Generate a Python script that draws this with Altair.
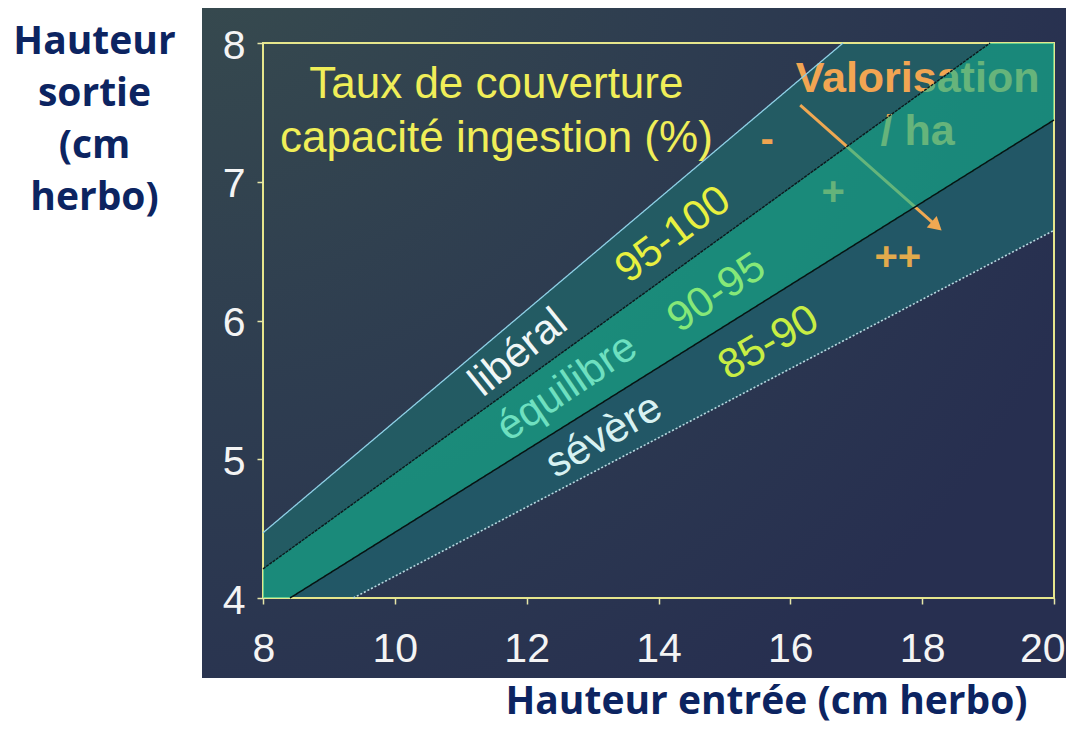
import altair as alt
import pandas as pd

# ---------------- data ----------------
x_ticks = [8, 10, 12, 14, 16, 18, 20]
y_ticks = [4, 5, 6, 7, 8]

band_x = [8, 8.41, 9.37, 16.8, 19.03, 20]
liberal_top = [4.47, 4.63, 5.02, 8.0, 8.0, 8.0]
liberal_bottom = [4.21, 4.35, 4.68, 7.23, 8.0, 8.0]
equilibre_top = [4.21, 4.35, 4.68, 7.23, 8.0, 8.0]
equilibre_bottom = [4.0, 4.0, 4.29, 6.49, 7.15, 7.445]
severe_top = [4.0, 4.0, 4.29, 6.49, 7.15, 7.445]
severe_bottom = [4.0, 4.0, 4.0, 5.85, 6.41, 6.65]

line_names = ["haut", "liberal_equilibre", "equilibre_severe", "bas"]
line_x_start = [8, 8, 8.41, 9.37]
line_y_start = [4.47, 4.21, 4.0, 4.0]
line_x_end = [16.8, 19.03, 20, 20]
line_y_end = [8.0, 8.0, 7.445, 6.65]

arrow_x = [16.15, 18.22]
arrow_y = [7.553, 6.68]

# annotations (text, x, y)
title_texts = ["Taux de couverture", "capacité ingestion (%)"]
title_x = [11.54, 11.54]
title_y = [7.604, 7.214]

band_labels = ["libéral", "95-100", "équilibre", "90-95", "sévère", "85-90"]
band_label_x = [11.87, 14.22, 12.61, 14.88, 13.17, 15.67]
band_label_y = [5.77, 6.62, 5.52, 6.20, 5.17, 5.84]

valo_texts = ["Valorisation", "/ ha"]
valo_x = [17.93, 17.93]
valo_y = [7.647, 7.265]

mark_texts = ["-", "+", "++"]
mark_x = [15.65, 16.65, 17.63]
mark_y = [7.30, 6.92, 6.45]

# ---------------- styles ----------------
W, H = 791, 555
FONT = "Liberation Sans"
TICK_COL = "#e6e6a8"

band_label_style = {
    "libéral": dict(color="#f0f6f6", angle=321),
    "95-100": dict(color="#e8f040", angle=323),
    "équilibre": dict(color="#6ee0c0", angle=326),
    "90-95": dict(color="#86e878", angle=326),
    "sévère": dict(color="#d8f2f2", angle=330),
    "85-90": dict(color="#c8ee44", angle=330),
}
mark_style = {"-": "#f0a450", "+": "#f0a450", "++": "#e2aa4c"}

xscale = alt.Scale(domain=[8, 20], nice=False, zero=False)
yscale = alt.Scale(domain=[4, 8], nice=False, zero=False)

xaxis = alt.Axis(
    values=x_ticks, grid=False, domain=False, tickColor=TICK_COL, tickSize=6, tickWidth=1.5,
    labelFont=FONT, labelFontSize=41, labelColor="#f4f4f4", labelPadding=25,
    labelFlush=True, labelFlushOffset=11,
    title="Hauteur entrée (cm herbo)", titleFont="Open Sans", titleFontSize=39,
    titleFontWeight="bold", titleColor="#0c2461", titleAngle=0, titleAlign="center",
    titleBaseline="alphabetic", titleX=503, titleY=115, zindex=1,
)
yaxis = alt.Axis(
    values=y_ticks, grid=False, domain=False, tickColor=TICK_COL, tickSize=6, tickWidth=1.5,
    labelFont=FONT, labelFontSize=41, labelColor="#f4f4f4", labelPadding=12, labelOffset=3,
    labelFlush=False,
    title=["Hauteur", "sortie", "(cm", "herbo)"], titleFont="Open Sans", titleFontSize=39,
    titleFontWeight="bold", titleColor="#0c2461", titleAngle=0, titleAlign="center",
    titleBaseline="top", titleX=-169, titleY=-21, titleLineHeight=52, zindex=1,
)


def X(f="x"):
    return alt.X(f"{f}:Q", scale=xscale, axis=xaxis)


def Y(f="y"):
    return alt.Y(f"{f}:Q", scale=yscale, axis=yaxis)


# background panel (decoration)
bg_grad = alt.RadialGradient(
    gradient="radial", x1=0, y1=0, r1=0, x2=0, y2=0, r2=1.1,
    stops=[
        alt.GradientStop(color="#384c4e", offset=0),
        alt.GradientStop(color="#2e3d50", offset=0.5),
        alt.GradientStop(color="#272f50", offset=1),
    ],
)
background = alt.Chart(pd.DataFrame({"a": [0]})).mark_rect(fill=bg_grad).encode(
    x=alt.value(-61), x2=alt.value(811), y=alt.value(-36), y2=alt.value(635)
)

bands = pd.DataFrame({
    "x": band_x,
    "lib_top": liberal_top, "lib_bot": liberal_bottom,
    "eq_top": equilibre_top, "eq_bot": equilibre_bottom,
    "sev_top": severe_top, "sev_bot": severe_bottom,
})

liberal = alt.Chart(bands).mark_area(color="#235b63").encode(
    x=X(), y=Y("lib_top"), y2="lib_bot:Q")
severe = alt.Chart(bands).mark_area(color="#225766").encode(
    x=X(), y=Y("sev_top"), y2="sev_bot:Q")
equilibre = alt.Chart(bands).mark_area(color="#10bd95", opacity=0.62).encode(
    x=X(), y=Y("eq_top"), y2="eq_bot:Q")

frame = alt.Chart(pd.DataFrame({"x": [8], "x2": [20], "y": [4], "y2": [8]})).mark_rect(
    fillOpacity=0, stroke="#e6e68c", strokeWidth=2).encode(
    x=X(), x2="x2:Q", y=Y(), y2="y2:Q")

lines_df = pd.DataFrame({"name": line_names, "x": line_x_start, "y": line_y_start,
                         "x2": line_x_end, "y2": line_y_end})
lines = alt.Chart(lines_df).mark_rule().encode(
    x=X(), y=Y(), x2="x2:Q", y2="y2:Q",
    color=alt.Color("name:N", legend=None, scale=alt.Scale(
        domain=line_names, range=["#8fd0e6", "#0b1a1c", "#061312", "#b8d8e0"])),
    size=alt.Size("name:N", legend=None, scale=alt.Scale(
        domain=line_names, range=[1.3, 1.6, 2.2, 1.0])),
    strokeDash=alt.StrokeDash("name:N", legend=None, scale=alt.Scale(
        domain=line_names, range=[[1, 0], [3, 1], [1, 0], [2, 2]])),
)

arrow_df = pd.DataFrame({"x": [arrow_x[0]], "y": [arrow_y[0]], "x2": [arrow_x[1]], "y2": [arrow_y[1]]})
arrow_line = alt.Chart(arrow_df).mark_rule(color="#f0a852", strokeWidth=3).encode(
    x=X(), y=Y(), x2="x2:Q", y2="y2:Q")
arrow_head = alt.Chart(pd.DataFrame({"x": [arrow_x[1]], "y": [arrow_y[1]]})).mark_point(
    shape="triangle-right", filled=True, color="#f0a852", opacity=1, size=230, angle=41).encode(
    x=X(), y=Y())

valo_layers = []
for t, xx, yy in zip(valo_texts, valo_x, valo_y):
    valo_layers.append(alt.Chart(pd.DataFrame({"t": [t], "x": [xx], "y": [yy]})).mark_text(
        font=FONT, fontSize=43, fontWeight="bold", color="#f2a552",
        align="center", baseline="alphabetic").encode(x=X(), y=Y(), text="t:N"))
for t, xx, yy in zip(mark_texts, mark_x, mark_y):
    valo_layers.append(alt.Chart(pd.DataFrame({"t": [t], "x": [xx], "y": [yy]})).mark_text(
        font=FONT, fontSize=40, fontWeight="bold", color=mark_style[t],
        align="center", baseline="middle").encode(x=X(), y=Y(), text="t:N"))

text_layers = []
for t, xx, yy in zip(title_texts, title_x, title_y):
    text_layers.append(alt.Chart(pd.DataFrame({"t": [t], "x": [xx], "y": [yy]})).mark_text(
        font=FONT, fontSize=44, color="#f0ee58", align="center", baseline="alphabetic").encode(
        x=X(), y=Y(), text="t:N"))
for t, xx, yy in zip(band_labels, band_label_x, band_label_y):
    st = band_label_style[t]
    text_layers.append(alt.Chart(pd.DataFrame({"t": [t], "x": [xx], "y": [yy]})).mark_text(
        font=FONT, fontSize=42, color=st["color"], angle=st["angle"],
        align="center", baseline="middle").encode(x=X(), y=Y(), text="t:N"))

chart = alt.layer(
    background, liberal, severe, frame, *valo_layers, arrow_line, arrow_head,
    equilibre, lines, *text_layers
).properties(
    width=W, height=H,
    autosize=alt.AutoSizeParams(type="none"),
    padding={"left": 255, "top": 35, "right": 12, "bottom": 127},
    background="white",
).configure_view(strokeWidth=0)

chart.save("out.html", embed_options={"renderer": "svg", "actions": False})
